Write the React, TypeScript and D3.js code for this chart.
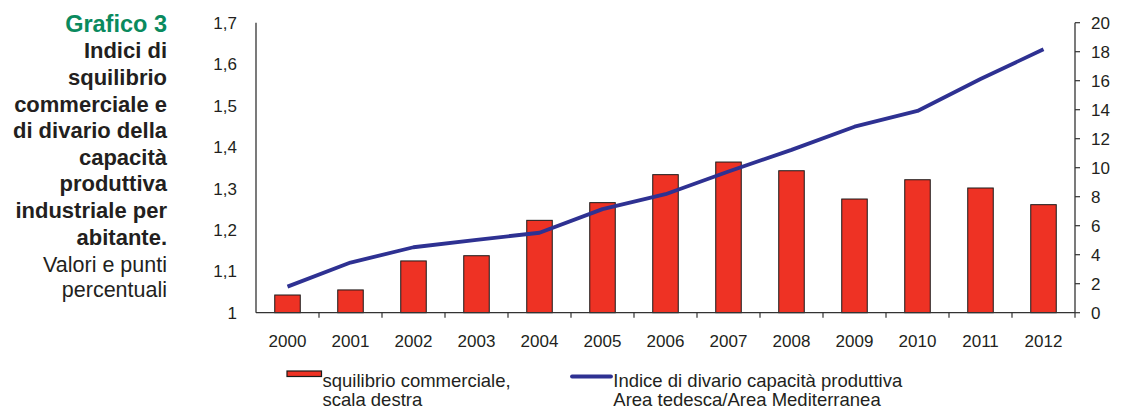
import React from "react";
import * as d3 from "d3";

const years = ["2000","2001","2002","2003","2004","2005","2006","2007","2008","2009","2010","2011","2012"];
const squilibrio = [1.22,1.57,3.57,3.93,6.37,7.59,9.52,10.39,9.79,7.84,9.17,8.6,7.45];
const divario = [1.063,1.121,1.158,1.176,1.193,1.25,1.286,1.341,1.393,1.449,1.487,1.564,1.636];
const leftTicks = [1,1.1,1.2,1.3,1.4,1.5,1.6,1.7];
const rightTicks = [0,2,4,6,8,10,12,14,16,18,20];
const titleLines = ["Indici di","squilibrio","commerciale e","di divario della","capacità","produttiva","industriale per","abitante."];
const subLines = ["Valori e punti","percentuali"];

const W = 1126, H = 413;
const x0 = 256, x1 = 1075, yTop = 22.7, yBot = 312.7;
const font = "'Liberation Sans', Arial, Helvetica, sans-serif";

export default function App() {
  const x = d3.scaleBand<string>().domain(years).range([x0, x1]).paddingInner(0.595).paddingOuter(0.2975);
  const xb = d3.scaleBand<string>().domain(years).range([x0, x1]);
  const yL = d3.scaleLinear().domain([1, 1.7]).range([yBot, yTop]);
  const yR = d3.scaleLinear().domain([0, 20]).range([yBot, yTop]);
  const line = d3.line<number>()
    .x((_, i) => (xb(years[i]) as number) + xb.bandwidth() / 2)
    .y(d => yL(d));
  const fmt = (v: number) => (Number.isInteger(v) ? String(v) : v.toFixed(1).replace(".", ","));
  const axisCol = "#333";
  const txt = "#231f20";
  return (
    <svg width={W} height={H} style={{ position: "absolute", left: 0, top: 0, display: "block" }} fontFamily={font}>
      <rect x={0} y={0} width={W} height={H} fill="#fff" />
      {/* title */}
      <text x={167} y={31.7} textAnchor="end" fontSize={23.5} fontWeight="bold" fill="#0a8a5e">Grafico 3</text>
      {titleLines.map((t, i) => (
        <text key={t} x={167} y={58.3 + i * 26.6} textAnchor="end" fontSize={22} fontWeight="bold" fill={txt}>{t}</text>
      ))}
      {subLines.map((t, i) => (
        <text key={t} x={167} y={271.5 + i * 25.5} textAnchor="end" fontSize={21.5} fill={txt}>{t}</text>
      ))}
      {/* bars */}
      {squilibrio.map((v, i) => (
        <rect key={years[i]} x={x(years[i])} y={yR(v)} width={x.bandwidth()} height={yBot - yR(v)}
          fill="#ee3224" stroke="#1a1a1a" strokeWidth={1} />
      ))}
      {/* line */}
      <path d={line(divario) || ""} fill="none" stroke="#2e3192" strokeWidth={3.8} strokeLinejoin="round" />
      {/* axes */}
      <line x1={x0} x2={x0} y1={yTop} y2={yBot} stroke={axisCol} strokeWidth={1.3} />
      <line x1={x1} x2={x1} y1={yTop} y2={yBot} stroke={axisCol} strokeWidth={1.3} />
      <line x1={x0} x2={x1} y1={yBot} y2={yBot} stroke={axisCol} strokeWidth={1.3} />
      {years.map(yr => (
        <line key={"t" + yr} x1={(xb(yr) as number) + xb.bandwidth()} x2={(xb(yr) as number) + xb.bandwidth()} y1={yBot} y2={yBot + 5} stroke={axisCol} strokeWidth={1.2} />
      ))}
      {rightTicks.map(t => (
        <g key={"r" + t}>
          <line x1={x1} x2={x1 + 5} y1={yR(t)} y2={yR(t)} stroke={axisCol} strokeWidth={1.2} />
          <text x={1091} y={yR(t)} dy="0.36em" fontSize={17} fill={txt}>{t}</text>
        </g>
      ))}
      {leftTicks.map(t => (
        <text key={"l" + t} x={237} y={yL(t)} dy="0.36em" textAnchor="end" fontSize={17} fill={txt}>{fmt(t)}</text>
      ))}
      {years.map(yr => (
        <text key={"x" + yr} x={(xb(yr) as number) + xb.bandwidth() / 2} y={341} dy="0.36em" textAnchor="middle" fontSize={17} fill={txt}>{yr}</text>
      ))}
      {/* legend */}
      <rect x={287} y={371} width={34.5} height={5.5} fill="#ee3224" stroke="#1a1a1a" strokeWidth={1.2} />
      <text x={322.5} y={386.7} fontSize={18.5} fill={txt}>squilibrio commerciale,</text>
      <text x={322.5} y={405.5} fontSize={18.5} fill={txt}>scala destra</text>
      <line x1={572} x2={611} y1={376.5} y2={376.5} stroke="#2e3192" strokeWidth={3.8} strokeLinecap="round" />
      <text x={613.3} y={386.7} fontSize={18.5} fill={txt}>Indice di divario capacità produttiva</text>
      <text x={613.3} y={405.5} fontSize={18.5} fill={txt}>Area tedesca/Area Mediterranea</text>
    </svg>
  );
}
